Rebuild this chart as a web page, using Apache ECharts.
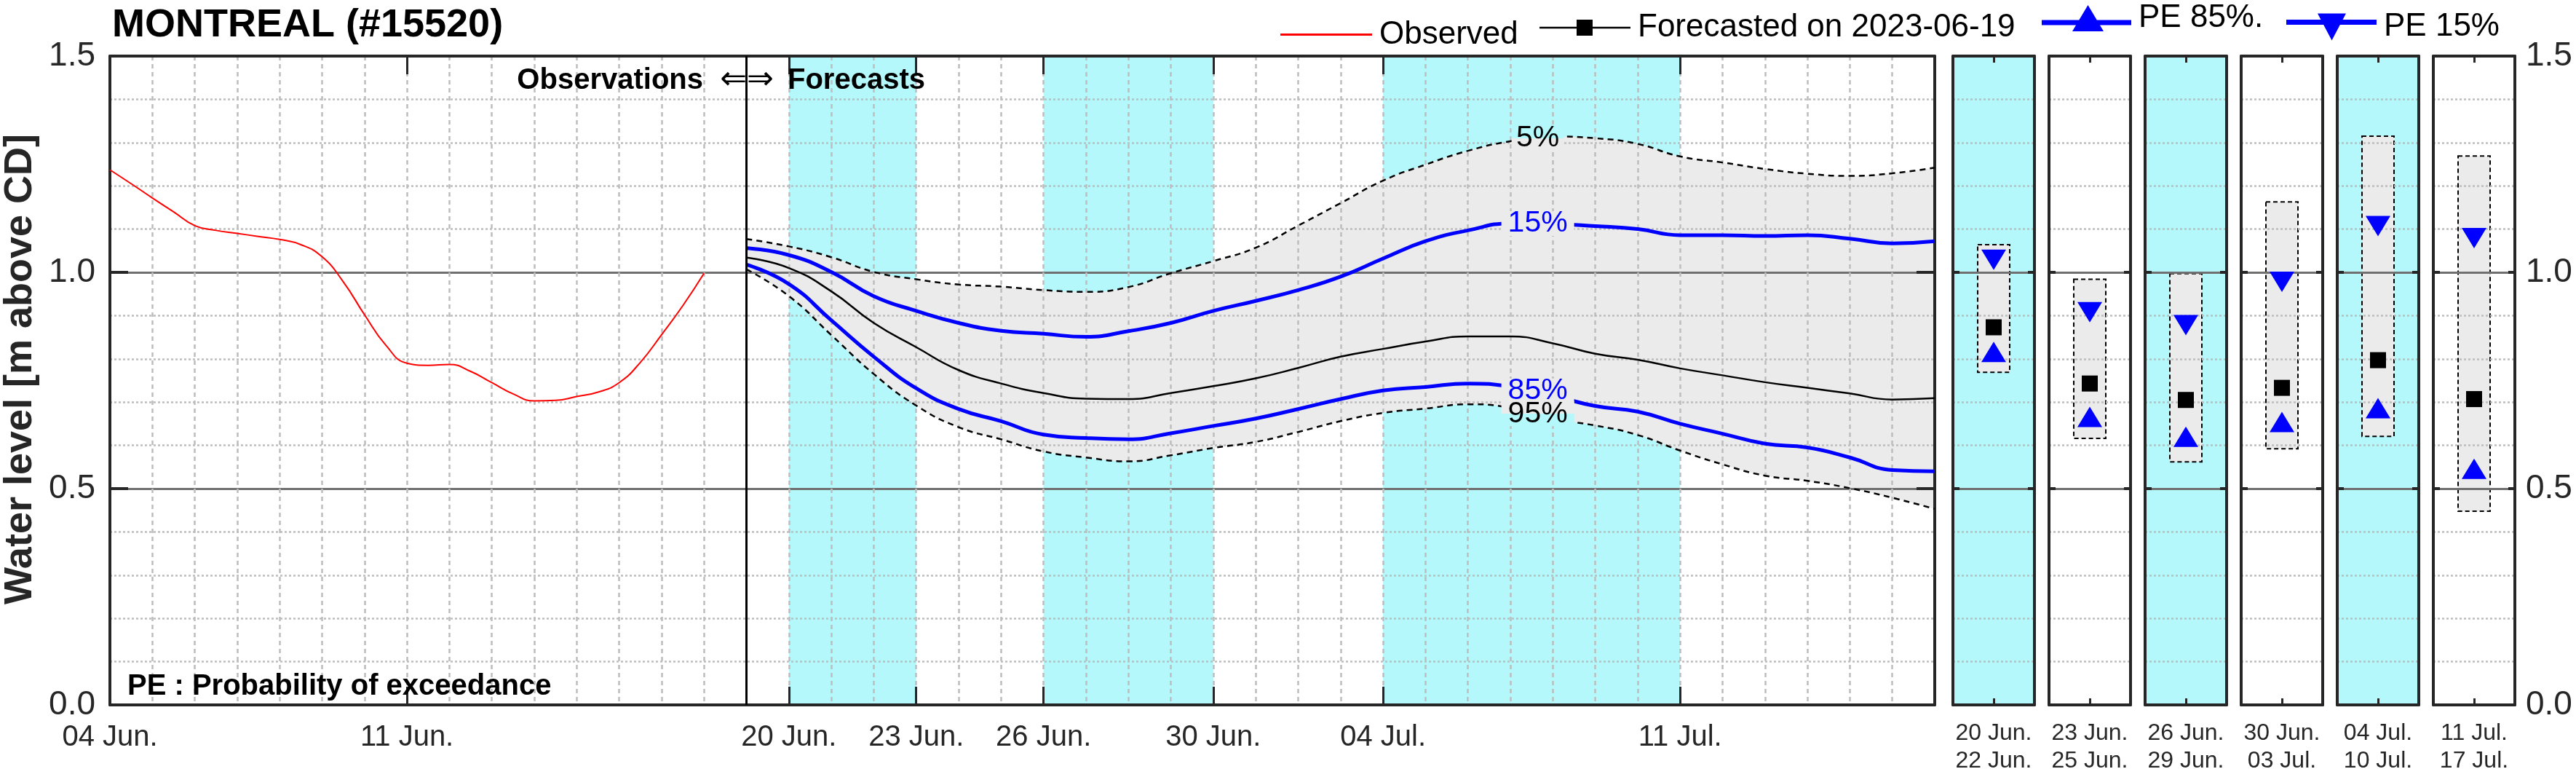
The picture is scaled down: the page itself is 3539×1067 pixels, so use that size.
<!DOCTYPE html>
<html><head><meta charset="utf-8">
<script src="https://cdn.jsdelivr.net/npm/echarts@6/dist/echarts.min.js"></script>
<style>html,body{margin:0;padding:0;background:#fff}#c{width:3539px;height:1067px}</style>
</head><body><div id="c"></div>
<script>
// ---------------- DATA ----------------
const obsTimes = ['2023-06-04T00:00','2023-06-04T12:00','2023-06-05T00:00','2023-06-05T12:00','2023-06-06T00:00','2023-06-06T12:00',
  '2023-06-07T00:00','2023-06-07T12:00','2023-06-08T00:00','2023-06-08T12:00','2023-06-09T00:00','2023-06-09T12:00',
  '2023-06-10T00:00','2023-06-10T12:00','2023-06-11T00:00','2023-06-11T12:00','2023-06-12T00:00','2023-06-12T12:00',
  '2023-06-13T00:00','2023-06-13T12:00','2023-06-14T00:00','2023-06-14T12:00','2023-06-15T00:00','2023-06-15T12:00',
  '2023-06-16T00:00','2023-06-16T12:00','2023-06-17T00:00','2023-06-17T12:00','2023-06-18T00:00'];
const obsValues = [1.237,1.205,1.172,1.140,1.108,1.097,1.090,1.083,1.076,1.064,1.036,0.978,0.902,0.832,0.790,0.785,0.787,0.771,
  0.745,0.719,0.703,0.704,0.713,0.723,0.745,0.792,0.856,0.923,0.998];

const fcDates = ['2023-06-19','2023-06-20','2023-06-21','2023-06-22','2023-06-23','2023-06-24','2023-06-25','2023-06-26',
  '2023-06-27','2023-06-28','2023-06-29','2023-06-30','2023-07-01','2023-07-02','2023-07-03','2023-07-04','2023-07-05',
  '2023-07-06','2023-07-07','2023-07-08','2023-07-09','2023-07-10','2023-07-11','2023-07-12','2023-07-13','2023-07-14',
  '2023-07-15','2023-07-16','2023-07-17'];
const pe5  = [1.077,1.060,1.035,1.001,0.984,0.972,0.967,0.959,0.955,0.966,0.998,1.026,1.057,1.108,1.160,1.212,1.249,1.281,
  1.303,1.314,1.310,1.297,1.268,1.254,1.239,1.228,1.223,1.229,1.242];
const pe15 = [1.056,1.040,1.001,0.945,0.911,0.883,0.865,0.858,0.851,0.864,0.883,0.911,0.934,0.959,0.990,1.032,1.072,1.097,
  1.113,1.112,1.107,1.100,1.086,1.086,1.084,1.086,1.078,1.067,1.072];
const pe50 = [1.034,1.010,0.956,0.883,0.827,0.774,0.743,0.721,0.708,0.707,0.721,0.737,0.755,0.779,0.805,0.823,0.840,0.852,
  0.852,0.836,0.812,0.798,0.778,0.762,0.746,0.733,0.720,0.706,0.709];
const pe85 = [1.018,0.973,0.889,0.805,0.732,0.684,0.656,0.625,0.617,0.614,0.628,0.645,0.662,0.684,0.707,0.727,0.735,0.743,
  0.736,0.715,0.691,0.678,0.650,0.627,0.604,0.595,0.572,0.543,0.540];
const pe95 = [1.007,0.945,0.855,0.765,0.692,0.642,0.614,0.586,0.572,0.563,0.577,0.594,0.608,0.631,0.656,0.675,0.685,0.695,
  0.687,0.661,0.646,0.624,0.588,0.556,0.530,0.518,0.501,0.479,0.453];

const forecastIssue = '2023-06-19';
const bandStarts = ['2023-06-20','2023-06-26','2023-07-04'];
const bandEnds   = ['2023-06-23','2023-06-30','2023-07-11'];

const xTickDates  = ['2023-06-04','2023-06-11','2023-06-20','2023-06-23','2023-06-26','2023-06-30','2023-07-04','2023-07-11'];
const xTickLabels = ['04 Jun.','11 Jun.','20 Jun.','23 Jun.','26 Jun.','30 Jun.','04 Jul.','11 Jul.'];
const xStart = '2023-06-04', xEnd = '2023-07-17';
const yTickValues = [0, 0.5, 1.0, 1.5];
const yTickLabels = ['0.0','0.5','1.0','1.5'];

const periodStart = ['20 Jun.','23 Jun.','26 Jun.','30 Jun.','04 Jul.','11 Jul.'];
const periodEnd   = ['22 Jun.','25 Jun.','29 Jun.','03 Jul.','10 Jul.','17 Jul.'];
const periodPE15    = [1.029,0.908,0.878,0.978,1.107,1.079];
const periodMedian  = [0.873,0.743,0.705,0.733,0.797,0.707];
const periodPE85    = [0.816,0.666,0.620,0.654,0.686,0.546];
const periodBoxTop  = [1.064,0.984,0.997,1.163,1.315,1.269];
const periodBoxBot  = [0.769,0.616,0.562,0.592,0.621,0.448];

const pctLabelText  = ['5%','15%','85%','95%'];
const pctLabelValue = [1.310,1.113,0.726,0.673];
const pctLabelTime  = '2023-07-07T15:30';

// ---------------- HELPERS / STYLE ----------------
const FONT = '"Liberation Sans", Arial, Helvetica, sans-serif';
const CYAN = '#b4f8fb', FILL = '#ebebeb', AXC = '#262626';
const GMAJ = '#707070', GMIN = '#bdbdbd';
const BLUE = '#0000ff', RED = '#ff0000';
const SMOOTH = 0.5;
const D0 = Date.parse(xStart + 'T00:00:00Z');
function dayOf(s){ const iso = s.length === 10 ? s + 'T00:00:00Z' : s + ':00Z'; return (Date.parse(iso) - D0) / 864e5; }
const X_MAX = dayOf(xEnd);
const majorDays = xTickDates.map(dayOf);
const fcX = fcDates.map(dayOf);
const pair = (xs, ys) => xs.map((x, i) => [x, ys[i]]);
const yFmt = v => { const i = yTickValues.findIndex(t => Math.abs(t - v) < 1e-9); return i >= 0 ? yTickLabels[i] : ''; };
const xFmt = v => { const i = majorDays.findIndex(t => Math.abs(t - v) < 1e-6); return i >= 0 ? xTickLabels[i] : ''; };

// Same bezier construction ECharts uses for smooth lines, sampled so the band polygon follows the drawn curves.
function smoothSample(P, smooth, n){
  const out = [[P[0][0], P[0][1]]];
  let cpx0 = P[0][0], cpy0 = P[0][1], prevX = P[0][0], prevY = P[0][1];
  for (let k = 1; k < P.length; k++){
    const x = P[k][0], y = P[k][1];
    let cpx1, cpy1, ncx = x, ncy = y;
    if (k === P.length - 1){ cpx1 = x; cpy1 = y; }
    else {
      const nx = P[k+1][0], ny = P[k+1][1];
      let vx = nx - prevX, vy = ny - prevY;
      const lp = Math.hypot(x - prevX, y - prevY), ln = Math.hypot(nx - x, ny - y);
      const r = ln / (ln + lp);
      ncx = x + vx * smooth * r; ncy = y + vy * smooth * r;
      ncx = Math.min(ncx, Math.max(nx, x)); ncy = Math.min(ncy, Math.max(ny, y));
      ncx = Math.max(ncx, Math.min(nx, x)); ncy = Math.max(ncy, Math.min(ny, y));
      vx = ncx - x; vy = ncy - y;
      cpx1 = x - vx * lp / ln; cpy1 = y - vy * lp / ln;
      cpx1 = Math.min(cpx1, Math.max(prevX, x)); cpy1 = Math.min(cpy1, Math.max(prevY, y));
      cpx1 = Math.max(cpx1, Math.min(prevX, x)); cpy1 = Math.max(cpy1, Math.min(prevY, y));
      vx = x - cpx1; vy = y - cpy1;
      ncx = x + vx * ln / lp; ncy = y + vy * ln / lp;
    }
    for (let s = 1; s <= n; s++){
      const t = s / n, u = 1 - t;
      out.push([u*u*u*prevX + 3*u*u*t*cpx0 + 3*u*t*t*cpx1 + t*t*t*x,
                u*u*u*prevY + 3*u*u*t*cpy0 + 3*u*t*t*cpy1 + t*t*t*y]);
    }
    cpx0 = ncx; cpy0 = ncy; prevX = x; prevY = y;
  }
  return out;
}

const MAIN = {left:151, top:77, width:2507, height:891};
const P_LEFT0 = 2683, P_PITCH = 132, P_W = 112;

// ---------------- AXES ----------------
const grids = [MAIN];
const xAxes = [], yAxes = [];
const axLine = {show:true, onZero:false, lineStyle:{color:AXC, width:4}};

xAxes.push({type:'value', gridIndex:0, position:'bottom', min:0, max:X_MAX,
  axisLine:axLine,
  axisTick:{show:true, inside:true, length:25, customValues:majorDays, lineStyle:{color:AXC, width:3}},
  axisLabel:{show:true, customValues:majorDays, formatter:xFmt, fontSize:40, lineHeight:40, margin:25, color:AXC, fontFamily:FONT, showMinLabel:true, showMaxLabel:true},
  splitLine:{show:false}});
xAxes.push({type:'value', gridIndex:0, position:'top', min:0, max:X_MAX,
  axisLine:axLine,
  axisTick:{show:true, inside:true, length:25, customValues:majorDays, lineStyle:{color:AXC, width:3}},
  axisLabel:{show:false}, splitLine:{show:false}});
xAxes.push({type:'value', gridIndex:0, position:'bottom', min:0, max:X_MAX, interval:1,
  axisLine:{show:false}, axisTick:{show:false}, axisLabel:{show:false},
  splitLine:{show:true, lineStyle:{color:GMIN, width:2.5, type:[6,5]}}});

function yAx(g, pos, labels, tickLen, grid){
  return {type:'value', gridIndex:g, position:pos, min:0, max:1.5, interval:0.5,
    axisLine:axLine,
    axisTick:{show:true, inside:true, length:tickLen, lineStyle:{color:AXC, width:4}},
    axisLabel:{show:labels, formatter:yFmt, fontSize:46, margin: pos === 'left' ? 20 : 15, color:AXC, fontFamily:FONT},
    splitLine:{show:grid, lineStyle:{color:GMAJ, width:3}},
    minorTick:{show:false, splitNumber:5},
    minorSplitLine:{show:grid, lineStyle:{color:GMIN, width:2.5, type:[3,3]}}};
}
yAxes.push(yAx(0, 'left', true, 25, true));
yAxes.push(yAx(0, 'right', false, 25, false));

for (let i = 0; i < 6; i++) {
  const g = i + 1;
  grids.push({left:P_LEFT0 + P_PITCH * i, top:MAIN.top, width:P_W, height:MAIN.height});
  const cat = [periodStart[i] + '\n' + periodEnd[i]];
  xAxes.push({type:'category', gridIndex:g, position:'bottom', data:cat, boundaryGap:true,
    axisLine:axLine,
    axisTick:{show:true, inside:true, alignWithLabel:true, length:9, lineStyle:{color:AXC, width:3}},
    axisLabel:{show:true, fontSize:32, lineHeight:38, margin:20, color:AXC, fontFamily:FONT, interval:0},
    splitLine:{show:false}});
  xAxes.push({type:'category', gridIndex:g, position:'top', data:cat, boundaryGap:true,
    axisLine:axLine,
    axisTick:{show:true, inside:true, alignWithLabel:true, length:9, lineStyle:{color:AXC, width:3}},
    axisLabel:{show:false}, splitLine:{show:false}});
  yAxes.push(yAx(g, 'left', false, 9, true));
  yAxes.push(yAx(g, 'right', i === 5, 9, false));
}

// ---------------- SERIES ----------------
const series = [];
series.push({type:'custom', name:'bands', xAxisIndex:0, yAxisIndex:0, z:-2, silent:true,
  data: bandStarts.map((s, i) => [dayOf(s), dayOf(bandEnds[i]), 0]),
  encode:{x:[0,1], y:2},
  renderItem:(params, api) => {
    const a = api.coord([api.value(0), 0]), b = api.coord([api.value(1), 0]);
    const cs = params.coordSys;
    return {type:'rect', shape:{x:a[0], y:cs.y, width:b[0] - a[0], height:cs.height}, style:{fill:CYAN}};
  }});

// 5%-95% envelope, drawn through the axes' coordinate mapping
series.push({type:'custom', name:'envelope', xAxisIndex:0, yAxisIndex:0, z:-1, silent:true,
  data:[[fcX[0], pe5[0]]], encode:{x:0, y:1},
  renderItem:(params, api) => {
    const up = smoothSample(fcX.map((x, i) => api.coord([x, pe5[i]])), SMOOTH, 12);
    const lo = smoothSample(fcX.map((x, i) => api.coord([x, pe95[i]])), SMOOTH, 12);
    return {type:'polygon', shape:{points: up.concat(lo.reverse())}, style:{fill:FILL}};
  }});

const lineBase = {type:'line', xAxisIndex:0, yAxisIndex:0, smooth:SMOOTH, symbol:'none', silent:true};
const grad = (top, bot) => ({type:'linear', x:0, y:0, x2:0, y2:1,
  colorStops:[{offset:0, color:top},{offset:0.5, color:top},{offset:0.5, color:bot},{offset:1, color:bot}]});
function pctMark(k, color, bg, w){
  return {silent:true, symbol:'rect', symbolSize:[w, 34], itemStyle:{color:bg},
    label:{show:true, position:'inside', formatter:pctLabelText[k], color:color, fontSize:41, fontFamily:FONT},
    data:[{coord:[dayOf(pctLabelTime), pctLabelValue[k]]}]};
}

series.push({...lineBase, name:'PE 5%', itemStyle:{color:'#000'}, lineStyle:{color:'#000', width:2.5, type:[8,6]},
  data:pair(fcX, pe5), markPoint:pctMark(0, '#000', grad(CYAN, FILL), 72)});
series.push({...lineBase, name:'PE 95%', itemStyle:{color:'#000'}, lineStyle:{color:'#000', width:2.5, type:[8,6]},
  data:pair(fcX, pe95), markPoint:pctMark(3, '#000', grad(FILL, CYAN), 100)});
series.push({...lineBase, name:'Forecasted on 2023-06-19', itemStyle:{color:'#000'}, lineStyle:{color:'#000', width:2.5},
  data:pair(fcX, pe50)});
series.push({...lineBase, name:'PE 15%', itemStyle:{color:BLUE}, lineStyle:{color:BLUE, width:5},
  data:pair(fcX, pe15), markPoint:pctMark(1, BLUE, FILL, 100)});
series.push({...lineBase, name:'PE 85%.', itemStyle:{color:BLUE}, lineStyle:{color:BLUE, width:5},
  data:pair(fcX, pe85), markPoint:pctMark(2, BLUE, FILL, 100)});
series.push({...lineBase, name:'Observed', itemStyle:{color:RED}, lineStyle:{color:RED, width:2},
  data:pair(obsTimes.map(dayOf), obsValues),
  markLine:{silent:true, symbol:['none','none'], label:{show:false}, lineStyle:{color:'#000', width:3, type:'solid'},
    data:[{xAxis:dayOf(forecastIssue)}]}});

for (let i = 0; i < 6; i++) {
  const xi = 3 + 2 * i, yi = 2 + 2 * i;
  if (i % 2 === 0) {
    series.push({type:'custom', name:'panel-bg-' + i, xAxisIndex:xi, yAxisIndex:yi, z:-2, silent:true,
      data:[[0, 0]], encode:{x:0, y:1},
      renderItem:(params) => { const cs = params.coordSys;
        return {type:'rect', shape:{x:cs.x, y:cs.y, width:cs.width, height:cs.height}, style:{fill:CYAN}}; }});
  }
  series.push({type:'custom', name:'range-' + i, xAxisIndex:xi, yAxisIndex:yi, z:-1, silent:true,
    data:[[0, periodBoxTop[i], periodBoxBot[i]]], encode:{x:0, y:[1,2]},
    renderItem:(params, api) => {
      const a = api.coord([api.value(0), api.value(1)]), b = api.coord([api.value(0), api.value(2)]);
      return {type:'rect', shape:{x:a[0] - 22, y:a[1], width:44, height:b[1] - a[1]},
        style:{fill:FILL, stroke:'#000', lineWidth:2, lineDash:[6,4]}};
    }});
  series.push({type:'scatter', name:'Forecasted on 2023-06-19', xAxisIndex:xi, yAxisIndex:yi, silent:true,
    symbol:'rect', symbolSize:[22,22], itemStyle:{color:'#000', opacity:1}, data:[[0, periodMedian[i]]]});
  series.push({type:'scatter', name:'PE 85%.', xAxisIndex:xi, yAxisIndex:yi, silent:true,
    symbol:'triangle', symbolSize:[34,28], itemStyle:{color:BLUE, opacity:1}, data:[[0, periodPE85[i]]]});
  series.push({type:'scatter', name:'PE 15%', xAxisIndex:xi, yAxisIndex:yi, silent:true,
    symbol:'triangle', symbolRotate:180, symbolSize:[34,28], itemStyle:{color:BLUE, opacity:1}, data:[[0, periodPE15[i]]]});
}

// ---------------- LEGEND ----------------
const legBase = {orient:'horizontal', padding:0, selectedMode:false, itemGap:0,
  itemStyle:{borderWidth:0}};
const legText = pad => ({fontSize:44, color:'#000', fontFamily:FONT, padding:pad});
const legends = [
  {...legBase, left:1759, top:25.5, itemWidth:126, itemHeight:3, textStyle:legText([6,0,0,5]),
    data:[{name:'Observed', icon:'rect'}]},
  {...legBase, left:2115, top:16, itemWidth:125, itemHeight:22, textStyle:legText([6,0,0,5]),
    data:[{name:'Forecasted on 2023-06-19', icon:'path://M0,9.75h125v2.5h-125z M51,0h22v22h-22z'}]},
  {...legBase, left:2805, top:3, itemWidth:123, itemHeight:36, textStyle:legText([18,0,0,5]),
    data:[{name:'PE 85%.', icon:'path://M0,20.5h123v7h-123z M42,36L63.5,0L85,36z'}]},
  {...legBase, left:3141, top:15, itemWidth:124, itemHeight:37, textStyle:legText([0,0,7,5]),
    data:[{name:'PE 15%', icon:'path://M0,8.5h124v7h-124z M43,0L82,0L62.5,37z'}]}
];

// ---------------- OPTION ----------------
const option = {
  animation:false,
  backgroundColor:'#ffffff',
  title:{text:'MONTREAL (#15520)', left:154, top:8, padding:0,
    textStyle:{fontSize:54, fontWeight:'bold', fontFamily:FONT, color:'#000'}},
  legend:legends,
  grid:grids, xAxis:xAxes, yAxis:yAxes, series:series,
  graphic:[
    {type:'text', x:28, y:507, rotation:Math.PI / 2, silent:true,
      style:{text:'Water level [m above CD]', font:'bold 54px ' + FONT, fill:AXC, align:'center', verticalAlign:'middle'}},
    {type:'text', x:966, y:111, silent:true, z:10,
      style:{text:'Observations', font:'bold 40px ' + FONT, fill:'#000', align:'right', verticalAlign:'middle'}},
    {type:'text', x:1026, y:111, silent:true, z:10,
      style:{text:'\u21D0\u21D2', font:'44px "DejaVu Sans", sans-serif', fill:'#000', align:'center', verticalAlign:'middle'}},
    {type:'text', x:1082, y:111, silent:true, z:10,
      style:{text:'Forecasts', font:'bold 40px ' + FONT, fill:'#000', align:'left', verticalAlign:'middle'}},
    {type:'text', x:175, y:943, silent:true, z:10,
      style:{text:'PE : Probability of exceedance', font:'bold 40px ' + FONT, fill:'#000', align:'left', verticalAlign:'middle'}}
  ]
};
const chart = echarts.init(document.getElementById('c'), null, {renderer:'canvas'});
chart.setOption(option);
</script></body></html>
